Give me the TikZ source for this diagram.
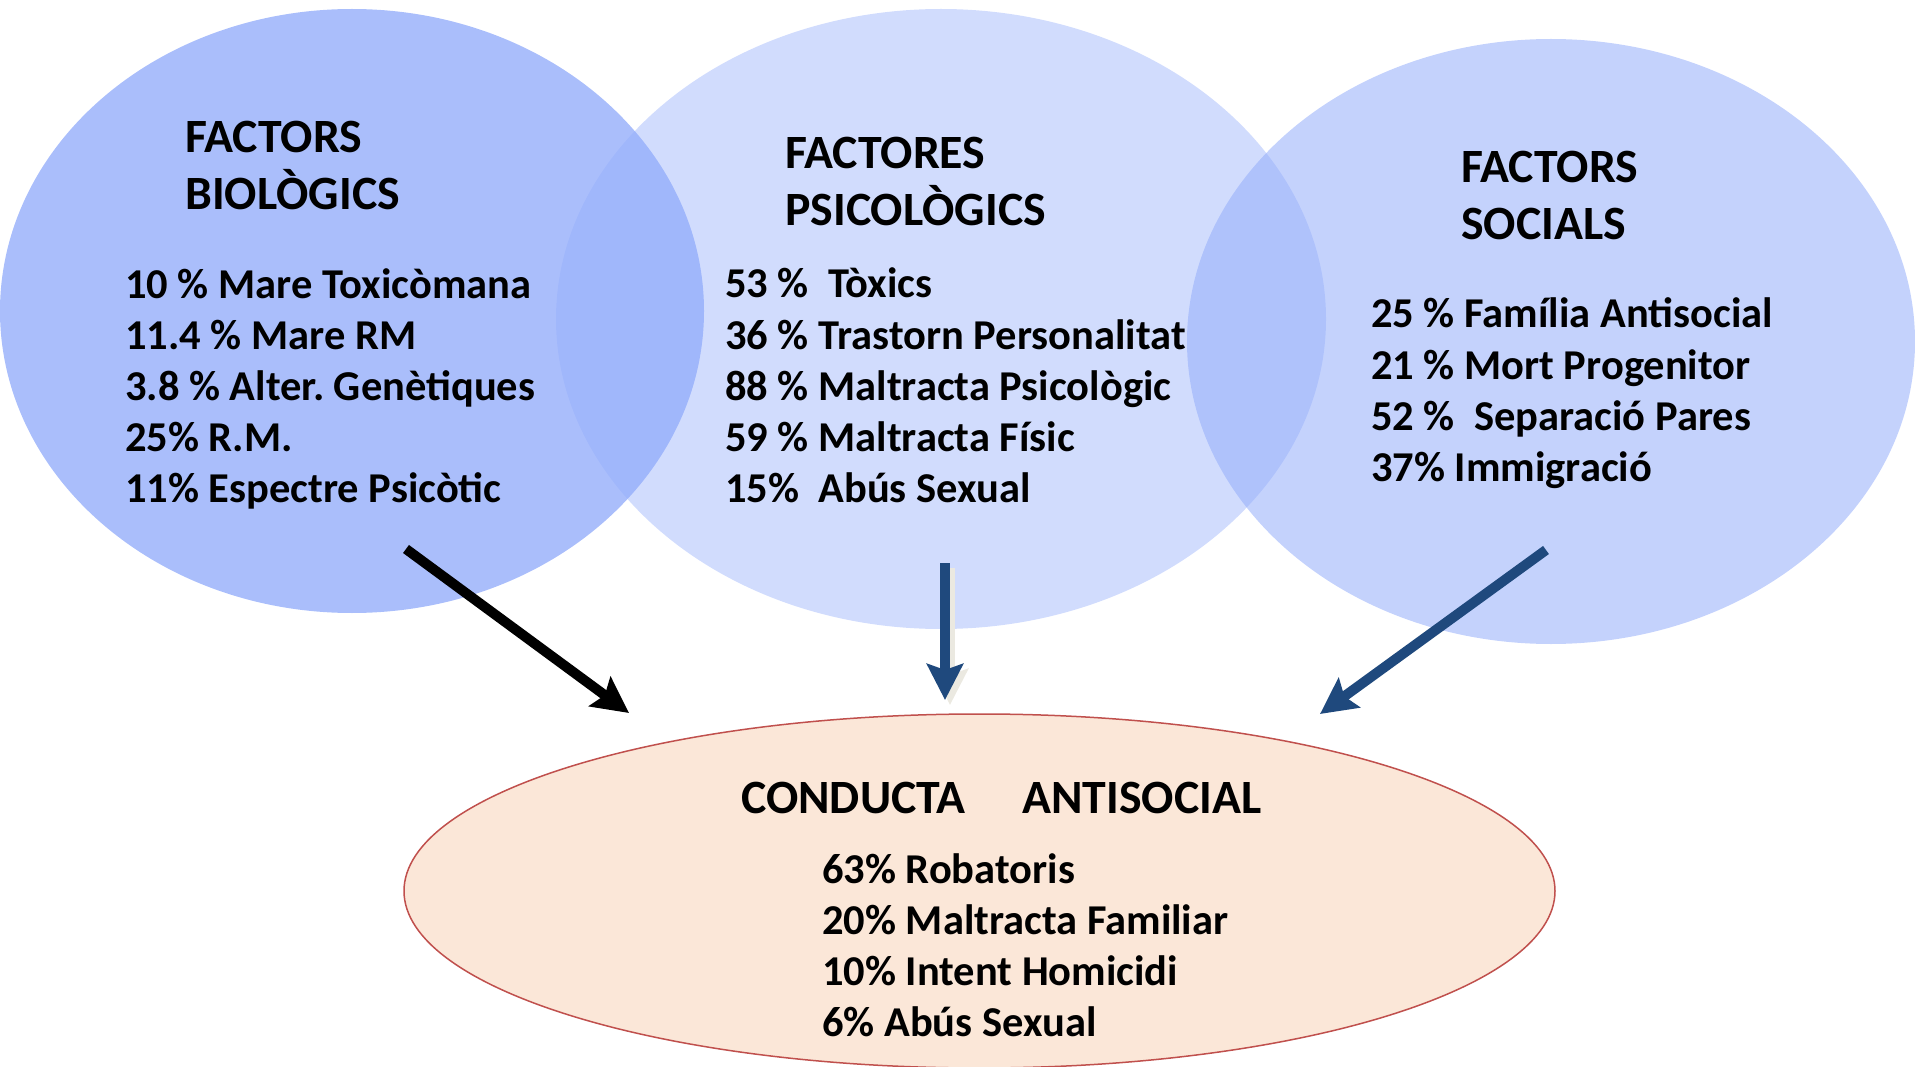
\documentclass[tikz,border=0pt]{standalone}
\usepackage{fontspec}
\setmainfont{Carlito}
\usetikzlibrary{shapes.geometric,arrows.meta}
\definecolor{blobblue}{RGB}{146,172,250}
\definecolor{condfill}{RGB}{251,231,216}
\definecolor{condline}{RGB}{192,80,77}
\definecolor{arrowblue}{RGB}{31,73,125}
\definecolor{shadowgray}{RGB}{235,233,225}
\frenchspacing
\newcommand\mylines[2]{\vtop{\baselineskip=#1\lineskiplimit=-1000pt\lineskip=0pt\halign{##\hfil\cr #2\crcr}}}
\begin{document}
\begin{tikzpicture}[x=1pt,y=-1pt,
  blob/.style={ellipse, inner sep=0pt, outer sep=0pt, fill=blobblue},
  headtxt/.style={font=\fontsize{47.8}{57}\selectfont\bfseries\frenchspacing, anchor=base west, inner sep=0pt},
  bodytxt/.style={font=\fontsize{42.5}{51}\selectfont\bfseries\frenchspacing, anchor=base west, inner sep=0pt},
  bigarrow/.style={line width=10pt, -{Stealth[length=36pt,width=36pt,inset=6pt]}}
]
\useasboundingbox (0,0) rectangle (1915,1067);
% ellipses
\node[blob, fill opacity=0.78, minimum width=704pt, minimum height=604pt] (bio) at (352,311) {};
\node[blob, fill opacity=0.42, minimum width=770pt, minimum height=620pt] (psi) at (941,319) {};
\node[blob, fill opacity=0.54, minimum width=728pt, minimum height=605pt] (soc) at (1551,341.5) {};
\node[ellipse, inner sep=0pt, fill=condfill, draw=condline, line width=1.5pt, minimum width=1151pt, minimum height=354pt] (cond) at (979.5,891) {};
% texts
\node[headtxt] (bioH) at (185,153) {\mylines{57pt}{FACTORS\cr BIOLÒGICS}};
\node[bodytxt] (bioB) at (125,299) {\mylines{50.8pt}{10 \% Mare Toxicòmana\cr 11.4 \% Mare RM\cr 3.8 \% Alter. Genètiques\cr 25\% R.M.\cr 11\% Espectre Psicòtic}};
\node[headtxt] (psiH) at (785,169) {\mylines{57pt}{FACTORES\cr PSICOLÒGICS}};
\node[bodytxt] (psiB) at (725,298) {\mylines{51.2pt}{53 \%\ \ Tòxics\cr 36 \% Trastorn Personalitat\cr 88 \% Maltracta Psicològic\cr 59 \% Maltracta Físic\cr 15\%\ \ Abús Sexual}};
\node[headtxt] (socH) at (1461,183) {\mylines{57pt}{FACTORS\cr SOCIALS}};
\node[bodytxt] (socB) at (1371,328) {\mylines{51.3pt}{25 \% Família Antisocial\cr 21 \% Mort Progenitor\cr 52 \%\ \ Separació Pares\cr 37\% Immigració}};
\node[headtxt] (condH) at (741,813) {CONDUCTA\hspace{46pt} ANTISOCIAL};
\node[bodytxt] (condB) at (822,883) {\mylines{51.3pt}{63\% Robatoris\cr 20\% Maltracta Familiar\cr 10\% Intent Homicidi\cr 6\% Abús Sexual}};
% arrows
\coordinate (bioTail) at (406,549);
\coordinate (bioTip) at (629,713);
\coordinate (psiTail) at (945,563);
\coordinate (psiTip) at (945,700);
\coordinate (psiTailS) at (950,568);
\coordinate (psiTipS) at (950,705);
\coordinate (socTail) at (1546,550);
\coordinate (socTip) at (1320,714);
\draw[bigarrow, black] (bioTail) -- (bioTip);
\draw[bigarrow, shadowgray] (psiTailS) -- (psiTipS);
\draw[bigarrow, arrowblue] (psiTail) -- (psiTip);
\draw[bigarrow, arrowblue] (socTail) -- (socTip);
\end{tikzpicture}
\end{document}
